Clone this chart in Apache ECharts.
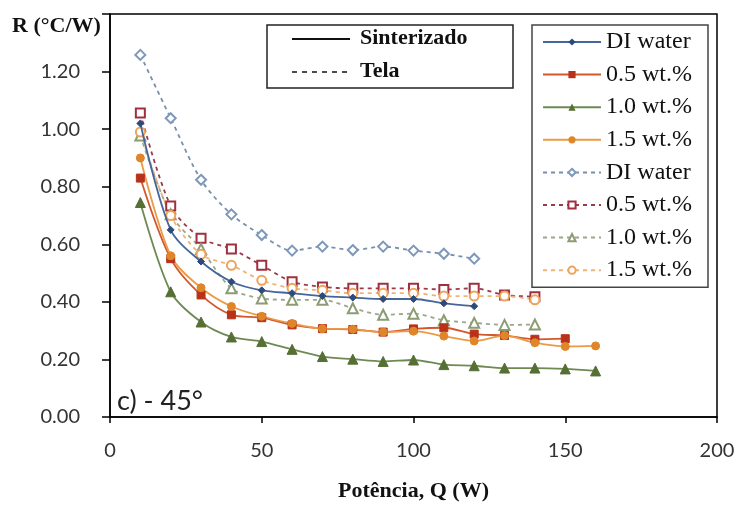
<!DOCTYPE html>
<html>
<head>
<meta charset="utf-8">
<script src="https://cdn.jsdelivr.net/npm/echarts@6/dist/echarts.min.js"></script>
<style>
html,body{margin:0;padding:0;background:#fff;}
#chart{width:742px;height:507px;}
</style>
</head>
<body>
<div id="chart"></div>
<script>
// ---- data ----
const powers = [10, 20, 30, 40, 50, 60, 70, 80, 90, 100, 110, 120, 130, 140, 150, 160];
const xTicks = [0, 50, 100, 150, 200];
const yTicks = [0.00, 0.20, 0.40, 0.60, 0.80, 1.00, 1.20];

// Sinterizado (solid)
const sintDI  = [1.02, 0.65, 0.54, 0.47, 0.44, 0.43, 0.42, 0.415, 0.41, 0.41, 0.395, 0.385];
const sint05  = [0.83, 0.55, 0.424, 0.355, 0.345, 0.32, 0.307, 0.304, 0.295, 0.306, 0.31, 0.288, 0.283, 0.27, 0.272];
const sint10  = [0.745, 0.435, 0.33, 0.278, 0.262, 0.235, 0.21, 0.201, 0.193, 0.198, 0.182, 0.178, 0.17, 0.17, 0.167, 0.16];
const sint15  = [0.90, 0.56, 0.449, 0.384, 0.35, 0.325, 0.307, 0.305, 0.295, 0.298, 0.281, 0.264, 0.283, 0.258, 0.245, 0.247];

// Tela (dashed)
const telaDI  = [1.258, 1.038, 0.824, 0.704, 0.632, 0.578, 0.592, 0.58, 0.592, 0.578, 0.567, 0.55];
const tela05  = [1.056, 0.733, 0.621, 0.584, 0.527, 0.47, 0.452, 0.447, 0.447, 0.447, 0.443, 0.447, 0.424, 0.418];
const tela10  = [0.978, 0.704, 0.584, 0.447, 0.412, 0.407, 0.407, 0.378, 0.355, 0.359, 0.336, 0.327, 0.32, 0.321];
const tela15  = [0.99, 0.70, 0.565, 0.527, 0.475, 0.447, 0.44, 0.43, 0.43, 0.43, 0.42, 0.42, 0.42, 0.407];

const seriesNames = ['DI water', '0.5 wt.%', '1.0 wt.%', '1.5 wt.%'];
const groupNames = ['Sinterizado', 'Tela'];

// ---- styles ----
const solidStyles = [
  {symbol: 'diamond', size: 7, line: '#46659a', mark: '#2c4a7e'},
  {symbol: 'rect', size: 8, line: '#d2582c', mark: '#b8321a'},
  {symbol: 'triangle', size: 10, line: '#6e8a52', mark: '#566f34'},
  {symbol: 'circle', size: 8, line: '#eb9a45', mark: '#e0862a'}
];
const dashStyles = [
  {symbol: 'emptyDiamond', size: 10, line: '#7890ae', mark: '#7d98b8'},
  {symbol: 'emptyRect', size: 9, line: '#9b3a4a', mark: '#a0303f'},
  {symbol: 'emptyTriangle', size: 10, line: '#9aa88a', mark: '#8c9c72'},
  {symbol: 'emptyCircle', size: 9, line: '#efb277', mark: '#eea35a'}
];

function pairs(arr){ return arr.map((v,i)=>[powers[i], v]); }

const solidData = [sintDI, sint05, sint10, sint15];
const dashData = [telaDI, tela05, tela10, tela15];

const series = [];
solidData.forEach((d,i)=>{
  const s = solidStyles[i];
  series.push({
    name: groupNames[0] + '|' + seriesNames[i],
    type: 'line', smooth: 0.3, data: pairs(d),
    symbol: s.symbol, symbolSize: s.size,
    lineStyle: {color: s.line, width: 1.8, type: 'solid'},
    itemStyle: {color: s.mark, borderColor: s.mark},
    z: 3
  });
});
dashData.forEach((d,i)=>{
  const s = dashStyles[i];
  series.push({
    name: groupNames[1] + '|' + seriesNames[i],
    type: 'line', smooth: 0.3, data: pairs(d),
    symbol: s.symbol, symbolSize: s.size,
    lineStyle: {color: s.line, width: 1.8, type: [4, 4]},
    itemStyle: {color: s.mark, borderColor: s.mark, borderWidth: 1.6},
    z: 2
  });
});

const chart = echarts.init(document.getElementById('chart'), null, {renderer: 'canvas'});
chart.setOption({
  animation: false,
  backgroundColor: '#fff',
  grid: {left: 110, right: 25, top: 14, bottom: 85, show: true, borderColor: '#000', borderWidth: 1.5, backgroundColor: 'transparent'},
  xAxis: {
    type: 'value', min: xTicks[0], max: xTicks[xTicks.length-1], interval: xTicks[1]-xTicks[0],
    name: 'Potência, Q (W)', nameLocation: 'middle', nameGap: 63,
    nameTextStyle: {fontFamily: 'Liberation Serif', fontWeight: 'bold', fontSize: 22, color: '#111'},
    axisLine: {lineStyle: {color: '#000', width: 1.5}},
    axisTick: {show: true, length: 6, lineStyle: {color: '#000', width: 1.5}},
    axisLabel: {margin: 24, fontFamily: 'Lato', fontSize: 20, color: '#333'},
    splitLine: {show: false}
  },
  yAxis: {
    type: 'value', min: 0, max: 1.4, interval: 0.2,
    axisLine: {show: true, lineStyle: {color: '#000', width: 1.5}},
    axisTick: {show: true, length: 8, lineStyle: {color: '#000', width: 1.5}},
    axisLabel: {margin: 30, fontFamily: 'Lato', fontSize: 20, color: '#333',
      formatter: v => (v > yTicks[yTicks.length-1] + 0.01 ? '' : v.toFixed(2))},
    splitLine: {show: false}
  },
  legend: {
    orient: 'vertical', left: 532, top: 25,
    padding: [5, 16, 5, 10],
    itemWidth: 58, itemHeight: 9, itemGap: 8.6,
    borderColor: '#444', borderWidth: 1.5, backgroundColor: '#fff',
    textStyle: {fontFamily: 'Liberation Serif', fontSize: 24, lineHeight: 24, color: '#111'},
    formatter: n => n.split('|')[1],
    data: series.map(s => s.name)
  },
  graphic: [
    {type: 'text', left: 12, top: 15, style: {text: 'R (°C/W)', font: 'bold 22px "Liberation Serif"', fill: '#111'}},
    {type: 'text', left: 117, top: 388, style: {text: 'c) - 45°', font: '27px Lato', fill: '#222'}},
    {type: 'rect', shape: {x: 267, y: 25, width: 246, height: 63}, style: {fill: '#fff', stroke: '#222', lineWidth: 1.5}, z: 10},
    {type: 'line', shape: {x1: 292, y1: 39, x2: 350, y2: 39}, style: {stroke: '#111', lineWidth: 1.8}, z: 11},
    {type: 'line', shape: {x1: 292, y1: 72, x2: 350, y2: 72}, style: {stroke: '#111', lineWidth: 1.6, lineDash: [5, 5]}, z: 11},
    {type: 'text', left: 360, top: 27, z: 11, style: {text: groupNames[0], font: 'bold 22px "Liberation Serif"', fill: '#111'}},
    {type: 'text', left: 360, top: 60, z: 11, style: {text: groupNames[1], font: 'bold 22px "Liberation Serif"', fill: '#111'}}
  ],
  series: series
});
</script>
</body>
</html>
